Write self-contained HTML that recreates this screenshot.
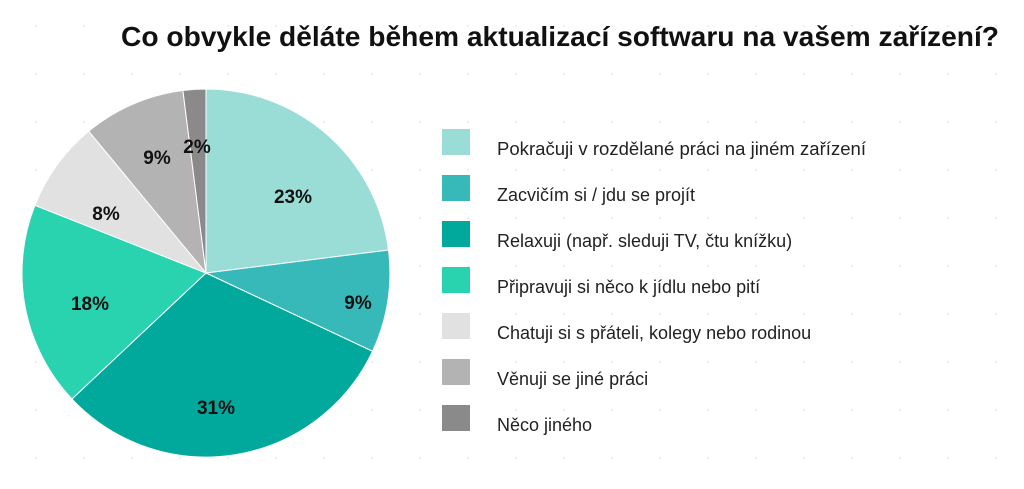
<!DOCTYPE html>
<html><head><meta charset="utf-8"><style>
html,body{margin:0;padding:0;background:#fff;}
body{width:1024px;height:484px;overflow:hidden;position:relative;font-family:"Liberation Sans","Noto Sans CJK JP",sans-serif;}
</style></head><body>
<svg width="1024" height="484" viewBox="0 0 1024 484" xmlns="http://www.w3.org/2000/svg" font-family="Liberation Sans, DejaVu Sans, sans-serif">
<defs><pattern id="dots" width="48" height="48" patternUnits="userSpaceOnUse"><circle cx="36" cy="26" r="0.8" fill="#ddd"/></pattern></defs>
<rect width="1024" height="484" fill="#fff"/>
<rect width="1024" height="484" fill="url(#dots)"/>
<text x="560" y="46" text-anchor="middle" font-size="27.5" font-weight="bold" fill="#111" textLength="878" lengthAdjust="spacingAndGlyphs">Co obvykle děláte během aktualizací softwaru na vašem zařízení?</text>
<g stroke="#fff" stroke-width="1">
<path d="M206,273 L206,89 A184,184 0 0 1 388.5,250 Z" fill="#9adcd6"/>
<path d="M206,273 L388.5,250 A184,184 0 0 1 372.5,351.3 Z" fill="#38b9b9"/>
<path d="M206,273 L372.5,351.3 A184,184 0 0 1 71.9,399 Z" fill="#00a99b"/>
<path d="M206,273 L71.9,399 A184,184 0 0 1 34.9,205.3 Z" fill="#2ad3b0"/>
<path d="M206,273 L34.9,205.3 A184,184 0 0 1 88.7,131.2 Z" fill="#e1e1e1"/>
<path d="M206,273 L88.7,131.2 A184,184 0 0 1 182.9,90.5 Z" fill="#b3b3b3"/>
<path d="M206,273 L182.9,90.5 A184,184 0 0 1 206,89 Z" fill="#8a8a8a"/>
</g>
<g font-size="19" font-weight="bold" fill="#111" text-anchor="middle">
<text x="293" y="203">23%</text>
<text x="358" y="309">9%</text>
<text x="216" y="414">31%</text>
<text x="90" y="310">18%</text>
<text x="106" y="220">8%</text>
<text x="157" y="164">9%</text>
<text x="197" y="153">2%</text>
</g>
<g>
<rect x="442" y="129" width="28" height="26" fill="#9adcd6"/>
<rect x="442" y="175" width="28" height="26" fill="#38b9b9"/>
<rect x="442" y="221" width="28" height="26" fill="#00a99b"/>
<rect x="442" y="267" width="28" height="26" fill="#2ad3b0"/>
<rect x="442" y="313" width="28" height="26" fill="#e1e1e1"/>
<rect x="442" y="359" width="28" height="26" fill="#b3b3b3"/>
<rect x="442" y="405" width="28" height="26" fill="#8a8a8a"/>
</g>
<g font-size="18" fill="#222">
<text x="497" y="155" textLength="369" lengthAdjust="spacingAndGlyphs">Pokračuji v rozdělané práci na jiném zařízení</text>
<text x="497" y="201">Zacvičím si / jdu se projít</text>
<text x="497" y="247">Relaxuji (např. sleduji TV, čtu knížku)</text>
<text x="497" y="293">Připravuji si něco k jídlu nebo pití</text>
<text x="497" y="339">Chatuji si s přáteli, kolegy nebo rodinou</text>
<text x="497" y="385">Věnuji se jiné práci</text>
<text x="497" y="431">Něco jiného</text>
</g>
</svg>
</body></html>
